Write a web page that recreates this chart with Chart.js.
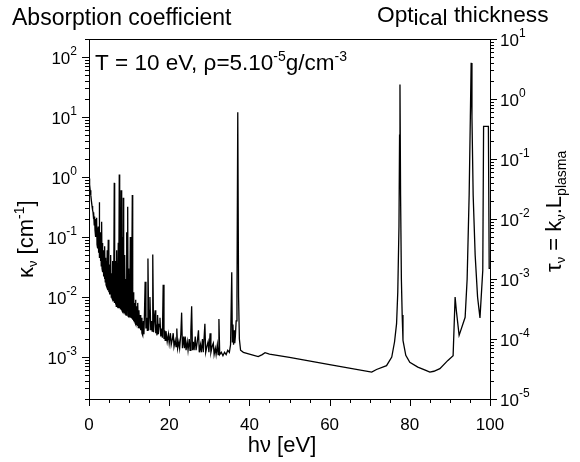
<!DOCTYPE html>
<html>
<head>
<meta charset="utf-8">
<script src="https://cdn.jsdelivr.net/npm/chart.js@4.4.1/dist/chart.umd.min.js"></script>
<style>
  html, body { margin: 0; background: #fff; }
  #wrap { width: 580px; height: 462px; position: relative; }
</style>
</head>
<body>
<div id="wrap"><canvas id="chart"></canvas></div>
<script>
// photon energy (eV) and absorption coefficient kappa (cm^-1)
const energy = [
  0.0, 0.15, 0.3, 0.45, 0.6, 0.75, 0.9, 1.0, 1.1, 1.2, 1.3, 1.4, 1.5, 1.6, 1.7, 1.8, 1.9, 2.0, 2.1, 2.2,
  2.3, 2.4, 2.5, 2.57, 2.65, 2.75, 2.85, 2.95, 3.05, 3.15, 3.25, 3.35, 3.45, 3.55, 3.65, 3.75, 3.85, 3.95, 4.05, 4.15,
  4.25, 4.35, 4.45, 4.55, 4.65, 4.8, 4.95, 5.05, 5.15, 5.25, 5.35, 5.45, 5.55, 5.65, 5.75, 5.85, 5.95, 6.05, 6.15, 6.3,
  6.4, 6.5, 6.6, 6.7, 6.8, 6.9, 7.0, 7.1, 7.2, 7.3, 7.4, 7.55, 7.65, 7.75, 7.85, 8.0, 8.1, 8.2, 8.3, 8.4,
  8.47, 8.55, 8.65, 8.75, 8.85, 8.95, 9.05, 9.15, 9.25, 9.35, 9.45, 9.55, 9.65, 9.75, 9.85, 9.95, 10.05, 10.15, 10.3, 10.4,
  10.5, 10.6, 10.7, 10.8, 10.9, 11.0, 11.1, 11.2, 11.3, 11.4, 11.5, 11.6, 11.7, 11.8, 11.9, 12.0, 12.1, 12.2, 12.3, 12.45,
  12.6, 12.75, 12.9, 13.05, 13.2, 13.4, 13.55, 13.7, 13.85, 14.0, 14.2, 14.4, 14.55, 14.7, 14.9, 15.05, 15.2, 15.4, 15.6, 15.75,
  15.9, 16.1, 16.3, 16.5, 16.65, 16.8, 16.95, 17.1, 17.3, 17.5, 17.7, 17.9, 18.1, 18.3, 18.5, 18.7, 18.85, 19.0, 19.2, 19.5,
  19.8, 20.0, 20.3, 20.5, 20.8, 21.0, 21.2, 21.5, 21.7, 21.9, 22.1, 22.4, 22.6, 22.9, 23.1, 23.3, 23.6, 23.8, 24.0, 24.2,
  24.5, 24.7, 25.0, 25.2, 25.4, 25.6, 25.8, 26.0, 26.2, 26.5, 26.7, 27.0, 27.3, 27.5, 27.8, 28.0, 28.3, 28.5, 28.9, 29.1,
  29.4, 29.7, 29.9, 30.2, 30.4, 30.7, 31.0, 31.2, 31.5, 31.7, 32.0, 32.2, 32.4, 32.6, 33.0, 33.4, 33.8, 34.2, 34.6, 35.0,
  35.3, 35.6, 35.75, 35.9, 36.05, 36.2, 36.35, 36.5, 36.7, 36.9, 37.1, 37.3, 37.5, 37.8, 38.5, 40.0, 42.2, 43.2, 43.9, 45.0,
  50.0, 60.0, 70.5, 71.7, 74.2, 75.5, 76.2, 76.7, 77.0, 77.3, 77.45, 77.55, 77.7, 77.9, 78.1, 78.3, 79.0, 80.0, 82.0, 84.0,
  85.0, 86.0, 87.5, 89.5, 90.8, 91.3, 91.6, 92.3, 93.8, 94.3, 94.8, 95.1, 95.3, 95.5, 95.8, 96.3, 96.9, 97.5, 98.2, 98.4,
  99.6, 99.8, 100.0
];
const kappa = [
  0.95, 0.75, 0.6, 0.5, 0.4, 0.33, 0.28, 0.26, 0.2, 0.26, 0.16, 0.22, 0.13, 0.2, 0.1, 0.16, 0.21, 0.075, 0.14, 0.065,
  0.15, 0.055, 0.12, 0.38, 0.045, 0.1, 0.04, 0.12, 0.033, 0.18, 0.03, 0.08, 0.026, 0.06, 0.022, 0.05, 0.02, 0.07, 0.018, 0.045,
  0.016, 0.04, 0.015, 0.06, 0.013, 0.09, 0.012, 0.035, 0.011, 0.03, 0.011, 0.05, 0.01, 0.025, 0.0095, 0.04, 0.009, 0.03, 0.0085, 0.8,
  0.008, 0.04, 0.0075, 0.03, 0.007, 0.06, 0.007, 0.025, 0.0068, 0.08, 0.0066, 1.1, 0.0065, 0.05, 0.0062, 0.6, 0.006, 0.03, 0.0058, 0.1,
  0.0056, 0.45, 0.0055, 0.03, 0.0053, 0.05, 0.0052, 0.02, 0.005, 0.12, 0.005, 0.025, 0.32, 0.0048, 0.03, 0.0047, 0.02, 0.0046, 0.1, 0.0045,
  0.02, 0.0044, 0.015, 0.5, 0.0042, 0.012, 0.004, 0.01, 0.0039, 0.008, 0.0037, 0.009, 0.0035, 0.007, 0.0034, 0.006, 0.0033, 0.008, 0.0031, 0.006,
  0.003, 0.005, 0.0028, 0.0045, 0.0025, 0.0023, 0.004, 0.0024, 0.006, 0.018, 0.003, 0.0045, 0.0028, 0.044, 0.0028, 0.006, 0.01, 0.0028, 0.004, 0.0027,
  0.051, 0.0026, 0.0045, 0.006, 0.0025, 0.0035, 0.0023, 0.005, 0.0024, 0.0035, 0.0045, 0.0022, 0.003, 0.0021, 0.016, 0.002, 0.0028, 0.0019, 0.0027, 0.0018,
  0.0024, 0.0017, 0.0025, 0.0016, 0.002, 0.0025, 0.0015, 0.0019, 0.0015, 0.003, 0.0014, 0.0018, 0.0014, 0.0024, 0.0055, 0.0014, 0.0022, 0.0014, 0.0022, 0.0013,
  0.0018, 0.0013, 0.002, 0.0013, 0.0027, 0.007, 0.0013, 0.0018, 0.0013, 0.0022, 0.0013, 0.0018, 0.0028, 0.0012, 0.0016, 0.0012, 0.002, 0.0012, 0.0036, 0.0012,
  0.0015, 0.0018, 0.0012, 0.0025, 0.0012, 0.0015, 0.0017, 0.0011, 0.0014, 0.0011, 0.0016, 0.0011, 0.0043, 0.0011, 0.0012, 0.00105, 0.0012, 0.0011, 0.0013, 0.0012,
  0.0016, 0.026, 0.0018, 0.0035, 0.0016, 0.0028, 0.0017, 0.0022, 0.004, 0.01, 12, 0.01, 0.002, 0.0013, 0.0012, 0.00112, 0.00102, 0.0011, 0.00118, 0.00112,
  0.00099, 0.00075, 0.00056, 0.00062, 0.00072, 0.001, 0.0018, 0.0036, 0.012, 0.15, 5, 35, 0.5, 0.02, 0.005, 0.0019, 0.00107, 0.00082, 0.00068, 0.0006,
  0.00056, 0.00058, 0.00064, 0.00088, 0.00105, 0.01, 0.006, 0.0023, 0.0046, 0.02, 0.5, 10, 80, 10, 0.5, 0.05, 0.01, 0.0045, 0.028, 7,
  7, 0.03, 0.03
];

const xTicks = [0, 20, 40, 60, 80, 100];
const leftExps = [-3, -2, -1, 0, 1, 2];
const rightExps = [-5, -4, -3, -2, -1, 0, 1];

const FONT = '"Liberation Sans", Arial, sans-serif';

// draw a run of [text, size, dy] pieces, return its width
function runs(ctx, x, y, parts, measureOnly) {
  let cx = x;
  for (const [t, size, dy] of parts) {
    ctx.font = size + "px " + FONT;
    if (!measureOnly) ctx.fillText(t, cx, y + dy);
    cx += ctx.measureText(t).width;
  }
  return cx - x;
}

const decor = {
  id: "decor",
  afterDraw(chart) {
    const { ctx, chartArea: a, scales } = chart;
    const yL = scales.y, yR = scales.y2, xs = scales.x;
    ctx.save();
    ctx.strokeStyle = "#000";
    ctx.fillStyle = "#000";
    ctx.lineWidth = 1;
    ctx.textBaseline = "alphabetic";
    ctx.textAlign = "left";

    // frame
    ctx.strokeRect(a.left + 0.5, a.top + 0.5, a.right - a.left, a.bottom - a.top);

    ctx.beginPath();
    // log ticks, left and right, pointing outward
    for (let k = -6; k <= 3; k++) {
      for (let m = 1; m <= 9; m++) {
        const v = m * Math.pow(10, k);
        const len = m === 1 ? 7 : 4;
        if (v >= yL.min * 0.999 && v <= yL.max * 1.001) {
          const p = Math.round(yL.getPixelForValue(v)) + 0.5;
          ctx.moveTo(a.left - len, p); ctx.lineTo(a.left, p);
        }
        if (v >= yR.min * 0.999 && v <= yR.max * 1.001) {
          const p = Math.round(yR.getPixelForValue(v)) + 0.5;
          ctx.moveTo(a.right, p); ctx.lineTo(a.right + len, p);
        }
      }
    }
    // x ticks
    for (let v = 0; v <= 100; v += 5) {
      const p = Math.round(xs.getPixelForValue(v)) + 0.5;
      const len = v % 20 === 0 ? 7 : 4;
      ctx.moveTo(p, a.bottom); ctx.lineTo(p, a.bottom + len);
    }
    ctx.stroke();

    // tick labels
    for (const e of leftExps) {
      const p = yL.getPixelForValue(Math.pow(10, e));
      const parts = [["10", 17, 0], [String(e), 12, -9]];
      const w = runs(ctx, 0, 0, parts, true);
      runs(ctx, 77 - w, p + 7, parts);
    }
    for (const e of rightExps) {
      const p = yR.getPixelForValue(Math.pow(10, e));
      runs(ctx, a.right + 10, p + 7, [["10", 17, 0], [String(e), 12, -9]]);
    }
    ctx.textAlign = "center";
    ctx.font = "17px " + FONT;
    for (const v of xTicks) {
      ctx.fillText(String(v), xs.getPixelForValue(v), 430);
    }
    ctx.textAlign = "left";

    // titles
    const xt = [["h\u03bd [eV]", 22, 0]];
    const xw = runs(ctx, 0, 0, xt, true);
    runs(ctx, 282 - xw / 2, 452, xt);

    runs(ctx, 12, 25, [["Absorption coefficient", 23, 0]]);
    runs(ctx, 377, 22, [["Opt", 22.7, 0], ["ical", 22.7, 3], [" thickness", 22.7, 0]]);

    runs(ctx, 95, 70, [["T = 10 eV, \u03c1=5.10", 22.5, 0], ["-5", 14, -9], ["g/cm", 22.5, 0], ["-3", 14, -9]]);

    ctx.save();
    ctx.translate(33, 278);
    ctx.rotate(-Math.PI / 2);
    runs(ctx, 0, 0, [["\u03ba", 22, 0], ["\u03bd", 13, 4], [" [cm", 22, 0], ["-1", 14, -9], ["]", 22, 0]]);
    ctx.restore();

    ctx.save();
    ctx.translate(561, 272);
    ctx.rotate(-Math.PI / 2);
    runs(ctx, 0, 0, [["\u03c4", 22, 0], ["\u03bd", 13, 4], [" = k", 22, 0], ["\u03bd", 13, 4], [".L", 22, 0], ["plasma", 14, 5]]);
    ctx.restore();

    ctx.restore();
  }
};

new Chart(document.getElementById("chart"), {
  type: "line",
  data: {
    datasets: [{
      data: energy.map((e, i) => ({ x: e, y: kappa[i] })),
      borderColor: "#000",
      borderWidth: 1.3,
      pointRadius: 0,
      tension: 0,
      fill: false
    }]
  },
  options: {
    responsive: true,
    maintainAspectRatio: false,
    animation: false,
    layout: { padding: { top: 39, left: 0, right: 0, bottom: 0 } },
    plugins: { legend: { display: false }, tooltip: { enabled: false } },
    scales: {
      x: {
        type: "linear", min: 0, max: 100,
        grid: { display: false }, border: { display: false },
        ticks: { display: false },
        afterFit: s => { s.height = 63; }
      },
      y: {
        type: "logarithmic", position: "left", min: 2e-4, max: 200,
        grid: { display: false }, border: { display: false },
        ticks: { display: false },
        afterFit: s => { s.width = 89; }
      },
      y2: {
        type: "logarithmic", position: "right", min: 1e-5, max: 10,
        grid: { display: false }, border: { display: false },
        ticks: { display: false },
        afterFit: s => { s.width = 90; }
      }
    }
  },
  plugins: [decor]
});
</script>
</body>
</html>
